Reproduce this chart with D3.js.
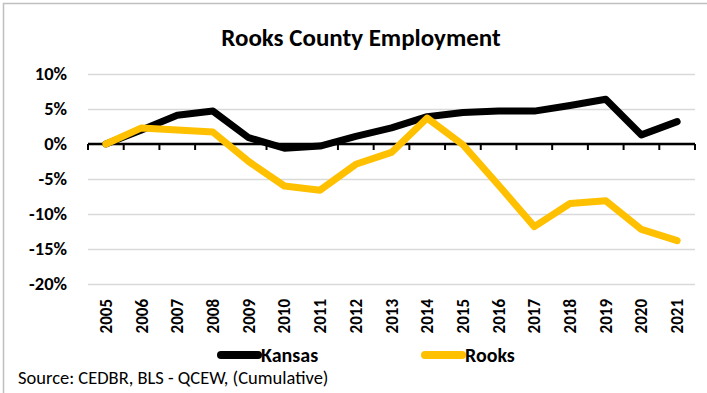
<!DOCTYPE html>
<html>
<head>
<meta charset="utf-8">
<script src="https://cdn.jsdelivr.net/npm/d3@7"></script>
<style>
  body { margin: 0; background: #fff; }
  svg { font-family: Carlito, Lato, sans-serif; display: block; }
</style>
</head>
<body>
<svg id="chart"></svg>
<script>
const years = ['2005', '2006', '2007', '2008', '2009', '2010', '2011', '2012', '2013',
  '2014', '2015', '2016', '2017', '2018', '2019', '2020', '2021'];
const kansas = [0, 2.0, 4.1, 4.7, 0.9, -0.6, -0.3, 1.1, 2.3, 3.9, 4.5, 4.7, 4.7, 5.5, 6.4, 1.3, 3.2];
const rooks = [0, 2.3, 2.0, 1.7, -2.5, -6.0, -6.6, -2.9, -1.2, 3.7, -0.1, -5.9, -11.8, -8.5, -8.1, -12.2, -13.8];
const yTicks = [10, 5, 0, -5, -10, -15, -20];

const width = 707, height = 393;
const margin = { top: 74, right: 12, bottom: 109, left: 88 };
const innerWidth = width - margin.left - margin.right;
const innerHeight = height - margin.top - margin.bottom;

const svg = d3.select('#chart').attr('width', width).attr('height', height);

// chart border (only top and left are inside the frame)
svg.append('path')
  .attr('d', 'M3.5,' + height + 'V3.5H' + width)
  .attr('fill', 'none')
  .attr('stroke', '#bfbfbf')
  .attr('stroke-width', 1.5);

svg.append('text')
  .text('Rooks County Employment')
  .attr('x', 361).attr('y', 46)
  .attr('text-anchor', 'middle')
  .attr('font-size', 25)
  .attr('font-weight', 'bold');

const body = svg.append('g')
  .attr('transform', 'translate(' + margin.left + ',' + margin.top + ')');

const xBand = d3.scaleBand().domain(years).range([0, innerWidth]);
const xScale = d => xBand(d) + xBand.bandwidth() / 2;
const yScale = d3.scaleLinear().domain([-20, 10]).range([innerHeight, 0]);

// gridlines + y labels
const leftAxis = d3.axisLeft(yScale)
  .tickValues(yTicks)
  .tickSize(-innerWidth)
  .tickFormat(d => d + '%');
const gy = body.append('g').call(leftAxis);
gy.select('.domain').remove();
gy.selectAll('.tick line').attr('stroke', '#d9d9d9').attr('stroke-width', 1.3);
gy.selectAll('.tick text')
  .attr('x', -21)
  .attr('font-size', 18.5)
  .attr('font-weight', 'bold')
  .attr('fill', '#000')
  .attr('font-family', 'Carlito, Lato, sans-serif');

// zero axis with ticks between categories
const zeroAxis = body.append('g').attr('transform', 'translate(0,' + yScale(0) + ')');
zeroAxis.append('line')
  .attr('x1', 0).attr('x2', innerWidth)
  .attr('stroke', '#000').attr('stroke-width', 2.5);
zeroAxis.selectAll('.tk')
  .data(years.concat(['end']))
  .enter()
  .append('line')
  .attr('x1', (d, i) => i * xBand.step())
  .attr('x2', (d, i) => i * xBand.step())
  .attr('y1', 0).attr('y2', 6)
  .attr('stroke', '#000').attr('stroke-width', 2);

// year labels, rotated
body.append('g')
  .selectAll('text')
  .data(years)
  .enter()
  .append('text')
  .text(d => d)
  .attr('transform', d => 'translate(' + (xScale(d) + 6) + ',' + (innerHeight + 15) + ') rotate(-90)')
  .attr('text-anchor', 'end')
  .attr('font-size', 17)
  .attr('font-weight', 'bold');

const line = d3.line()
  .x((d, i) => xScale(years[i]))
  .y(d => yScale(d));

body.append('path')
  .datum(kansas)
  .attr('d', line)
  .attr('fill', 'none')
  .attr('stroke', '#000')
  .attr('stroke-width', 7)
  .attr('stroke-linejoin', 'round')
  .attr('stroke-linecap', 'round');

body.append('path')
  .datum(rooks)
  .attr('d', line)
  .attr('fill', 'none')
  .attr('stroke', '#ffc000')
  .attr('stroke-width', 7)
  .attr('stroke-linejoin', 'round')
  .attr('stroke-linecap', 'round');

// legend
const legendItems = [
  { name: 'Kansas', color: '#000', x: 221 },
  { name: 'Rooks', color: '#ffc000', x: 425 }
];
const legend = svg.append('g').attr('transform', 'translate(0,355)');
legendItems.forEach(it => {
  legend.append('line')
    .attr('x1', it.x).attr('x2', it.x + 37)
    .attr('stroke', it.color)
    .attr('stroke-width', 8)
    .attr('stroke-linecap', 'round');
  legend.append('text')
    .text(it.name)
    .attr('x', it.x + 40)
    .attr('y', 6.5)
    .attr('font-size', 20)
    .attr('font-weight', 'bold');
});

svg.append('text')
  .text('Source: CEDBR, BLS - QCEW, (Cumulative)')
  .attr('x', 18).attr('y', 384)
  .attr('font-size', 18.5);
</script>
</body>
</html>
